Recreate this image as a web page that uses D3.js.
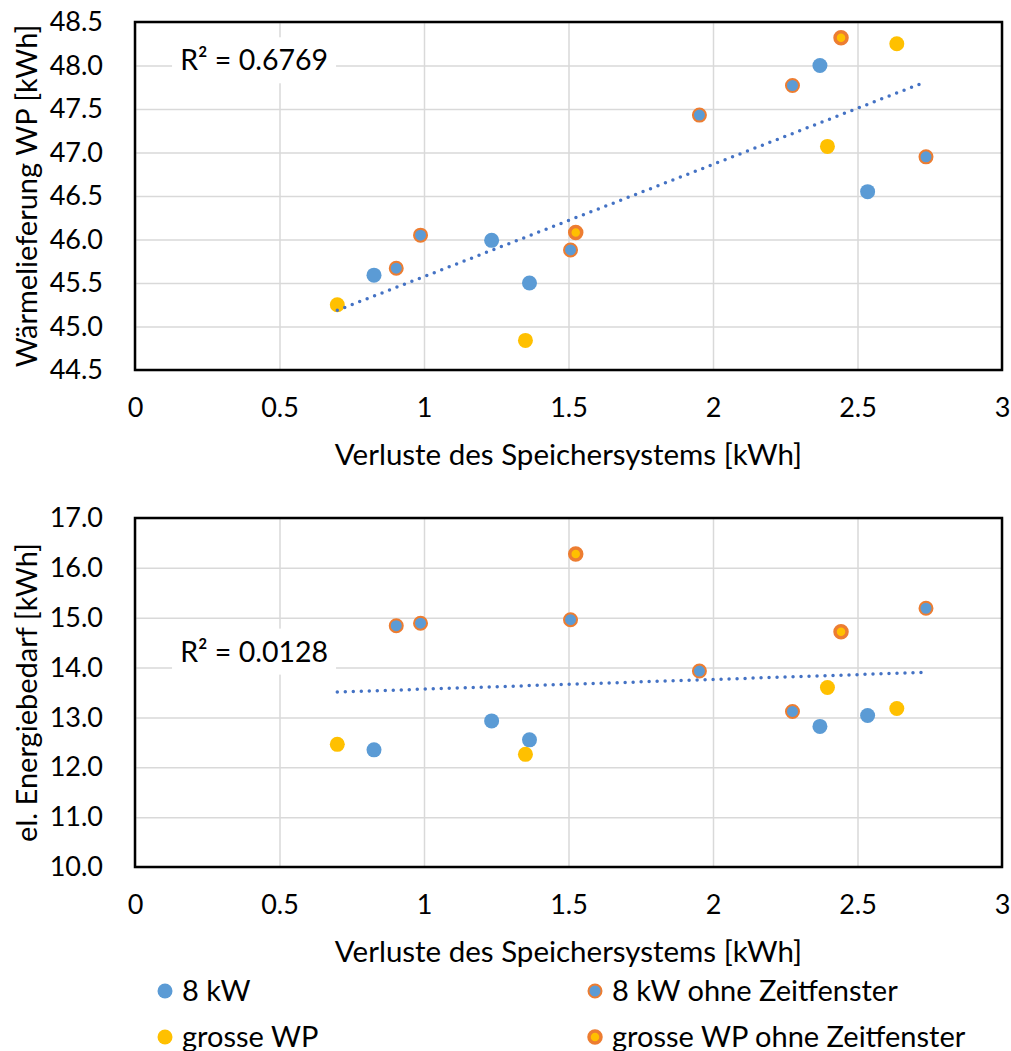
<!DOCTYPE html>
<html>
<head>
<meta charset="utf-8">
<script src="https://cdn.jsdelivr.net/npm/d3@7"></script>
<style>
  body { margin: 0; background: white; }
  svg text { font-family: Lato, "Open Sans", sans-serif; fill: #000; }
</style>
</head>
<body>
<div id="chart"></div>
<script>
// series names (legend order)
var seriesNames = ["8 kW", "8 kW ohne Zeitfenster", "grosse WP", "grosse WP ohne Zeitfenster"];

// Verluste des Speichersystems [kWh]
var loss8 = [0.827, 1.234, 1.365, 2.370, 2.535];
var loss8o = [0.904, 0.988, 1.507, 1.953, 2.275, 2.737];
var lossG = [0.700, 1.351, 2.396, 2.636];
var lossGo = [1.525, 2.443];

// Wärmelieferung WP [kWh]
var heat8 = [45.59, 45.99, 45.50, 48.00, 46.55];
var heat8o = [45.67, 46.05, 45.88, 47.43, 47.77, 46.95];
var heatG = [45.25, 44.84, 47.07, 48.25];
var heatGo = [46.08, 48.32];

// el. Energiebedarf [kWh]
var elec8 = [12.35, 12.93, 12.55, 12.82, 13.04];
var elec8o = [14.84, 14.89, 14.96, 13.93, 13.12, 15.19];
var elecG = [12.46, 12.26, 13.60, 13.18];
var elecGo = [16.28, 14.72];

// ticks
var xTicks = [0, 0.5, 1, 1.5, 2, 2.5, 3];
var yTicksHeat = [44.5, 45.0, 45.5, 46.0, 46.5, 47.0, 47.5, 48.0, 48.5];
var yTicksElec = [10, 11, 12, 13, 14, 15, 16, 17];

var r2Heat = "R² = 0.6769";
var r2Elec = "R² = 0.0128";

var W = 1011, H = 1051;
var plotLeft = 135, plotRight = 1002;

var blue = "#5B9BD5", orange = "#ED7D31", yellow = "#FFC000", trendBlue = "#4472C4";

var svg = d3.select("#chart").append("svg")
    .attr("width", W)
    .attr("height", H);

function pts(xs, ys) {
    return xs.map(function(x, i) { return { x: x, y: ys[i] }; });
}

function drawMarker(sel, k) {
    if (k == 0) {
        sel.attr("r", 7.5).style("fill", blue);
    } else if (k == 1) {
        sel.attr("r", 6.5).style("fill", blue).style("stroke", orange).style("stroke-width", 2);
    } else if (k == 2) {
        sel.attr("r", 7.5).style("fill", yellow);
    } else {
        sel.attr("r", 6).style("fill", yellow).style("stroke", orange).style("stroke-width", 3.5);
    }
}

function drawChart(top, bottom, yTicks, sets, yTitle, r2Text, r2Pos) {
    var x = d3.scaleLinear().domain([0, 3]).range([plotLeft, plotRight]);
    var y = d3.scaleLinear().domain([yTicks[0], yTicks[yTicks.length - 1]]).range([bottom, top]);
    var g = svg.append("g");

    // gridlines
    g.append("g")
        .attr("transform", "translate(0," + bottom + ")")
        .call(d3.axisBottom(x).tickValues(xTicks).tickSize(-(bottom - top)).tickFormat(""))
        .call(function(a) { a.select(".domain").remove(); })
        .selectAll("line").style("stroke", "#D9D9D9").style("stroke-width", 1.5);
    g.append("g")
        .attr("transform", "translate(" + plotLeft + ",0)")
        .call(d3.axisLeft(y).tickValues(yTicks).tickSize(-(plotRight - plotLeft)).tickFormat(""))
        .call(function(a) { a.select(".domain").remove(); })
        .selectAll("line").style("stroke", "#D9D9D9").style("stroke-width", 1.5);

    // tick labels
    var yAx = g.append("g")
        .attr("transform", "translate(" + (plotLeft - 32) + ",0)")
        .call(d3.axisLeft(y).tickValues(yTicks).tickSize(0).tickPadding(0).tickFormat(d3.format(".1f")));
    yAx.select(".domain").remove();
    yAx.selectAll("text").style("font-size", "27px").style("font-family", "Lato");

    var xAx = g.append("g")
        .attr("transform", "translate(0," + (bottom + 28) + ")")
        .call(d3.axisBottom(x).tickValues(xTicks).tickSize(0).tickPadding(0).tickFormat(d3.format("~g")));
    xAx.select(".domain").remove();
    xAx.selectAll("text").style("font-size", "27px").style("font-family", "Lato");

    // axis titles
    g.append("text")
        .attr("x", (plotLeft + plotRight) / 2)
        .attr("y", bottom + 95)
        .attr("text-anchor", "middle")
        .style("font-size", "29.5px")
        .text("Verluste des Speichersystems [kWh]");
    g.append("text")
        .attr("transform", "translate(37," + (top + bottom) / 2 + ") rotate(-90)")
        .attr("text-anchor", "middle")
        .style("font-size", "29px")
        .text(yTitle);

    // R² label
    var lab = g.append("g")
        .attr("transform", "translate(" + x(r2Pos[0]) + "," + y(r2Pos[1]) + ")");
    lab.append("rect")
        .attr("x", -82).attr("y", -23)
        .attr("width", 164).attr("height", 46)
        .style("fill", "white");
    lab.append("text")
        .attr("text-anchor", "middle")
        .attr("y", 10)
        .style("font-size", "28.5px")
        .text(r2Text);

    // points
    var all = [];
    sets.forEach(function(s, k) {
        all = all.concat(s);
        g.selectAll(".s" + k)
            .data(s)
            .enter().append("circle")
            .attr("class", "s" + k)
            .attr("cx", function(d) { return x(d.x); })
            .attr("cy", function(d) { return y(d.y); })
            .call(drawMarker, k);
    });

    // linear trendline over all points
    var mx = d3.mean(all, function(d) { return d.x; });
    var my = d3.mean(all, function(d) { return d.y; });
    var sxy = d3.sum(all, function(d) { return (d.x - mx) * (d.y - my); });
    var sxx = d3.sum(all, function(d) { return (d.x - mx) * (d.x - mx); });
    var slope = sxy / sxx, icpt = my - slope * mx;
    var ext = d3.extent(all, function(d) { return d.x; });
    g.append("line")
        .attr("x1", x(ext[0])).attr("y1", y(icpt + slope * ext[0]))
        .attr("x2", x(ext[1])).attr("y2", y(icpt + slope * ext[1]))
        .style("stroke", trendBlue)
        .style("stroke-width", 3.5)
        .style("stroke-linecap", "round")
        .style("stroke-dasharray", "0 8");

    // plot border
    g.append("rect")
        .attr("x", plotLeft).attr("y", top)
        .attr("width", plotRight - plotLeft).attr("height", bottom - top)
        .style("fill", "none")
        .style("stroke", "black")
        .style("stroke-width", 2.5);
}

drawChart(22, 370, yTicksHeat,
    [pts(loss8, heat8), pts(loss8o, heat8o), pts(lossG, heatG), pts(lossGo, heatGo)],
    "Wärmelieferung WP [kWh]", r2Heat, [0.412, 48.06]);

drawChart(518, 867, yTicksElec,
    [pts(loss8, elec8), pts(loss8o, elec8o), pts(lossG, elecG), pts(lossGo, elecGo)],
    "el. Energiebedarf [kWh]", r2Elec, [0.412, 14.32]);

// legend
var legendX = [165, 595];
var legendY = [991, 1037];
var leg = svg.append("g");
seriesNames.forEach(function(name, k) {
    var lx = legendX[k % 2], ly = legendY[Math.floor(k / 2)];
    leg.append("circle")
        .attr("cx", lx).attr("cy", ly)
        .call(drawMarker, k);
    leg.append("text")
        .attr("x", lx + 17)
        .attr("y", ly + 10)
        .style("font-size", "29px")
        .text(name);
});
</script>
</body>
</html>
